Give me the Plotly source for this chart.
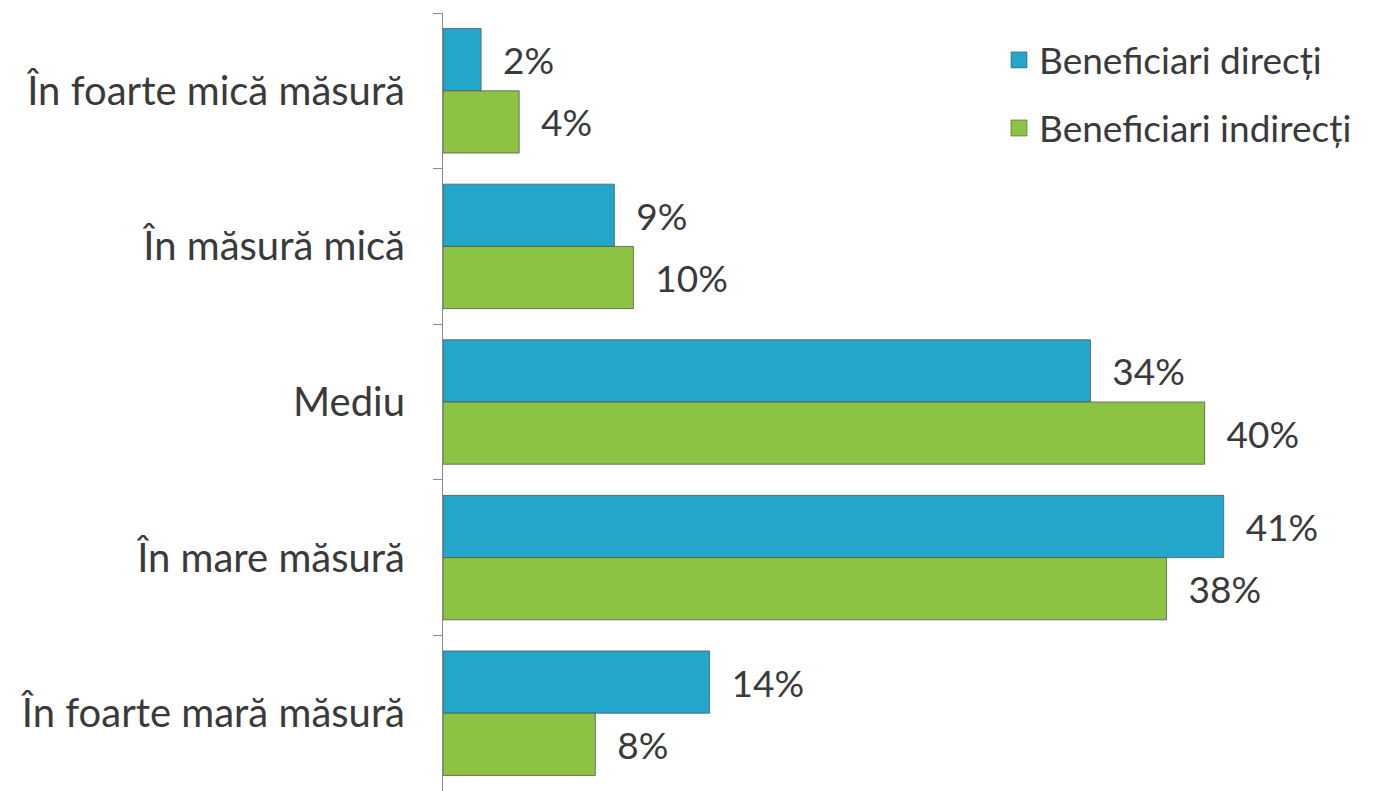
import plotly.graph_objects as go

categories = ["În foarte mică măsură", "În măsură mică", "Mediu", "În mare măsură", "În foarte mară măsură"]
direct = [2, 9, 34, 41, 14]
indirect = [4, 10, 40, 38, 8]
series_names = ["Beneficiari direcți", "Beneficiari indirecți"]
colors = ["#23A6CC", "#8DC343"]

FONT = "Lato"
TXT = "#3a3a3a"
line = dict(color="rgba(80,80,80,0.75)", width=1)

fig = go.Figure()
for vals, name, col, grp in [(direct, series_names[0], colors[0], "a"),
                             (indirect, series_names[1], colors[1], "b")]:
    fig.add_trace(go.Bar(
        y=categories, x=vals, orientation="h", name=name,
        marker=dict(color=col, line=line),
        text=[f"{v}%" for v in vals], texttemplate="  %{text}", textposition="outside",
        textfont=dict(family=FONT, size=37, color=TXT), cliponaxis=False,
        legendgroup=grp, showlegend=False,
    ))
for name, col, grp in [(series_names[0], colors[0], "a"), (series_names[1], colors[1], "b")]:
    fig.add_trace(go.Scatter(
        x=[None], y=[None], mode="markers", name=name, legendgroup=grp,
        marker=dict(symbol="square", size=16, color=col,
                    line=dict(color="rgba(80,80,80,0.6)", width=1)),
    ))

fig.update_layout(
    width=1369, height=783,
    margin=dict(l=435, r=20, t=5, b=0, autoexpand=False),
    paper_bgcolor="white", plot_bgcolor="white",
    barmode="group", bargap=0.2, bargroupgap=0,
    font=dict(family=FONT, size=37, color=TXT),
    showlegend=True,
    legend=dict(x=1, xanchor="right", y=0.979, yanchor="top",
                font=dict(family=FONT, size=37, color=TXT),
                tracegroupgap=17, bgcolor="rgba(0,0,0,0)", itemwidth=30),
)
fig.update_xaxes(range=[0, 48], visible=False, showgrid=False, zeroline=False, automargin=False)
fig.update_yaxes(autorange="reversed", showline=True, linecolor="#8a8a8a", linewidth=1,
                 ticks="outside", ticklen=9, tickcolor="#8a8a8a", tickson="boundaries",
                 ticklabelstandoff=29, showgrid=False, automargin=False,
                 tickfont=dict(family=FONT, size=40, color=TXT))

fig.write_html("out.html")
